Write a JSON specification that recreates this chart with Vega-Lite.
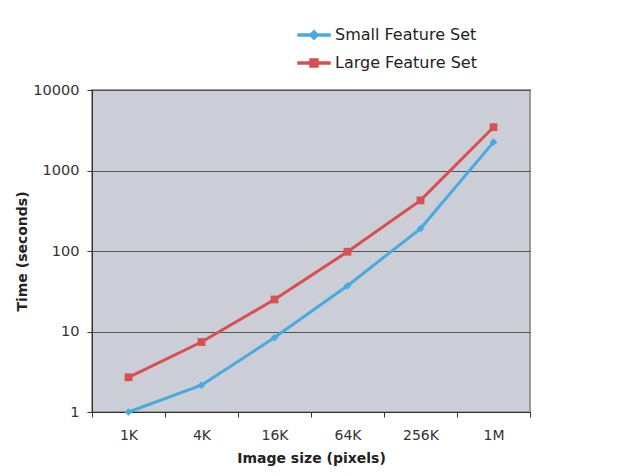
{
  "$schema": "https://vega.github.io/schema/vega-lite/v6.json",
  "autosize": "none",
  "width": 438,
  "height": 322,
  "padding": {"left": 92, "top": 90, "right": 107, "bottom": 64},
  "background": "white",
  "config": {
    "font": "DejaVu Sans",
    "view": {"fill": "#cbced7", "stroke": "#9a9a9a", "strokeWidth": 2}
  },
  "data": {
    "values": [
      {"size": "1K", "series": "Small Feature Set", "time": 1.0},
      {"size": "4K", "series": "Small Feature Set", "time": 2.15},
      {"size": "16K", "series": "Small Feature Set", "time": 8.4},
      {"size": "64K", "series": "Small Feature Set", "time": 37},
      {"size": "256K", "series": "Small Feature Set", "time": 190},
      {"size": "1M", "series": "Small Feature Set", "time": 2250},
      {"size": "1K", "series": "Large Feature Set", "time": 2.7},
      {"size": "4K", "series": "Large Feature Set", "time": 7.4},
      {"size": "16K", "series": "Large Feature Set", "time": 25},
      {"size": "64K", "series": "Large Feature Set", "time": 98},
      {"size": "256K", "series": "Large Feature Set", "time": 425},
      {"size": "1M", "series": "Large Feature Set", "time": 3450}
    ]
  },
  "encoding": {
    "x": {
      "field": "size", "type": "ordinal",
      "sort": ["1K", "4K", "16K", "64K", "256K", "1M"],
      "scale": {"paddingInner": 0, "paddingOuter": 0},
      "axis": {
        "title": "Image size (pixels)", "titleFontSize": 14, "titleFontWeight": "bold", "titleColor": "#222",
        "labelAngle": 0, "labelFontSize": 14, "labelColor": "#333", "labelPadding": 11,
        "tickBand": "extent", "tickSize": 5, "tickColor": "#333", "domainColor": "#333",
        "titlePadding": 9
      }
    },
    "y": {
      "field": "time", "type": "quantitative",
      "scale": {"type": "log", "domain": [1, 10000]},
      "axis": {
        "title": "Time (seconds)", "titleFontSize": 14, "titleFontWeight": "bold", "titleColor": "#222",
        "values": [1, 10, 100, 1000, 10000], "format": "d",
        "labelFontSize": 14.5, "labelColor": "#333", "labelPadding": 8,
        "tickSize": 5, "tickColor": "#333", "domainColor": "#333",
        "grid": true, "gridColor": "#555", "gridWidth": 1, "titlePadding": 3
      }
    },
    "color": {
      "field": "series", "type": "nominal",
      "sort": ["Small Feature Set", "Large Feature Set"],
      "scale": {"range": ["#4aaade", "#d84f50"]},
      "legend": {
        "title": null, "orient": "none", "legendX": 214, "legendY": -63,
        "labelFontSize": 16, "labelColor": "#222", "labelOffset": 13,
        "symbolSize": 64, "rowPadding": 12,
        "encode": {
          "symbols": {
            "update": {
              "shape": {"signal": "datum.value === 'Small Feature Set' ? 'M-4,-0.22H4V0.22H-4Z M0,-1.1L1.1,0L0,1.1L-1.1,0Z' : 'M-4,-0.22H4V0.22H-4Z M-1,-1H1V1H-1Z'"},
              "fill": {"signal": "datum.value === 'Small Feature Set' ? '#4aaade' : '#d84f50'"},
              "stroke": {"value": "transparent"},
              "fillOpacity": {"value": 1}
            }
          }
        }
      }
    }
  },
  "layer": [
    {"mark": {"type": "line", "strokeWidth": 3}},
    {
      "mark": {"type": "point", "filled": true, "opacity": 1, "size": 60},
      "encoding": {
        "shape": {
          "field": "series", "type": "nominal",
          "sort": ["Small Feature Set", "Large Feature Set"],
          "scale": {"range": ["diamond", "square"]},
          "legend": null
        }
      }
    }
  ]
}
